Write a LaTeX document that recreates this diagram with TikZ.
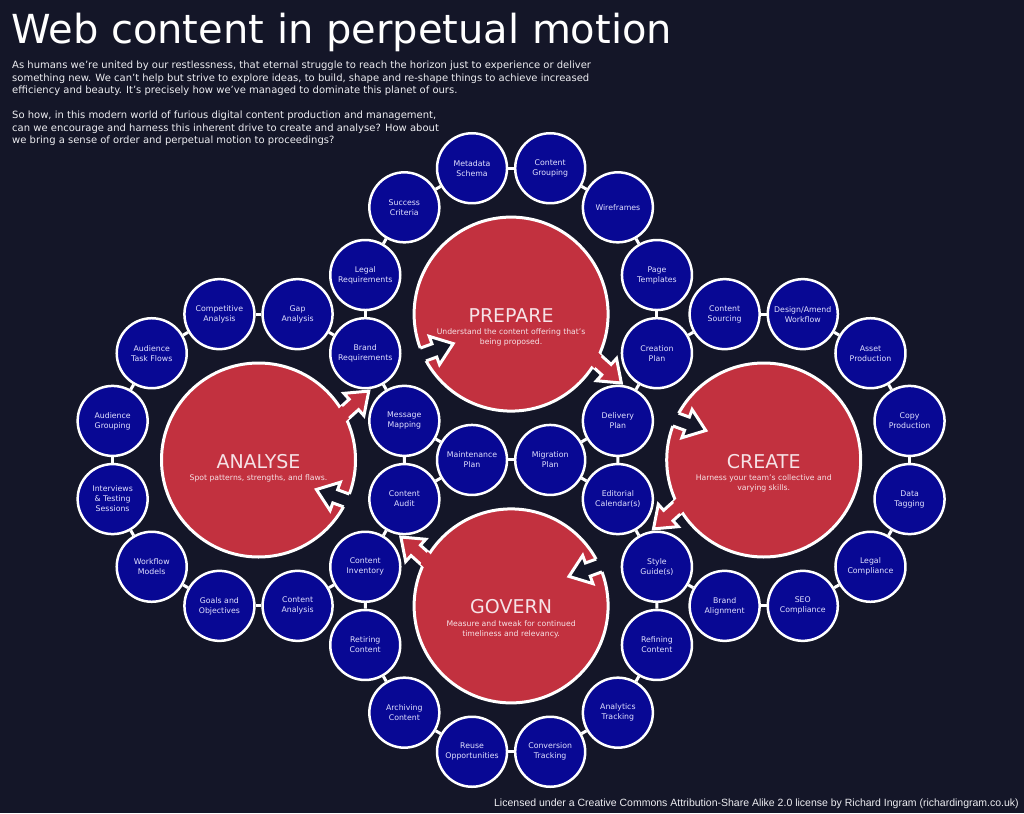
\documentclass[tikz,border=0pt]{standalone}
\usepackage{fontspec}
\setmainfont{DejaVu Sans}
\newfontfamily\footfont{Liberation Sans}
\usetikzlibrary{calc}
\definecolor{bg}{RGB}{20,22,40}
\definecolor{dotblue}{RGB}{8,8,148}
\definecolor{bigred}{RGB}{194,49,63}
\definecolor{labelc}{RGB}{226,226,255}
\definecolor{pinkw}{RGB}{246,226,230}
\definecolor{bodyc}{RGB}{238,238,242}
\newcommand\blockarr[1]{(0,0) -- (-20,15) -- (-20,7) -- (-20-#1,7) -- (-20-#1,-7) -- (-20,-7) -- (-20,-15) -- cycle}
\begin{document}
\begin{tikzpicture}[x=1pt,y=1pt,
  small/.style={circle, minimum size=70pt, inner sep=0pt, fill=dotblue, draw=white, line width=2.5pt, text=labelc, font=\fontsize{7.8}{10}\selectfont, align=center},
  big/.style={circle, minimum size=194pt, inner sep=0pt, fill=bigred, draw=white, line width=3pt},
  link/.style={draw=white, line width=3pt},
  bigtitle/.style={text=pinkw, font=\fontsize{19}{22}\selectfont, inner sep=0pt, anchor=base},
  bigsub/.style={text=pinkw, font=\fontsize{7.7}{10}\selectfont, align=center, inner sep=0pt, anchor=north},
  redarr/.style={fill=bigred, draw=white, line width=3pt, line join=miter},
  darkedge/.style={draw=white, line width=3pt, line join=miter},
  bodytext/.style={text=bodyc, font=\fontsize{10}{12.4}\selectfont, align=left, inner sep=0pt, anchor=north west}
]
\useasboundingbox (0,0) rectangle (1024,-813);
\fill[bg] (0,0) rectangle (1024,-813);

\coordinate (A) at (258.5,-460);
\coordinate (C) at (763.7,-460);
\coordinate (P) at (511.1,-314.1);
\coordinate (G) at (511.1,-605.9);

% arrow tips
\coordinate (tAP) at ($(A)+(32:130)$);
\coordinate (tPC) at ($(P)+(-32:130)$);
\coordinate (tCG) at ($(C)+(212:130)$);
\coordinate (tGA) at ($(G)+(148:130)$);
\coordinate (dAP) at ($(P)+(207:65)$);
\coordinate (dPC) at ($(C)+(153:65)$);
\coordinate (dCG) at ($(G)+(27:65)$);
\coordinate (dGA) at ($(A)+(333:65)$);

% outgoing red arrows (outline layer)
\foreach \t/\r in {tAP/42, tPC/-42, tCG/222, tGA/138}
  \path[redarr, shift={(\t)}, rotate=\r] \blockarr{34};

% big circles
\node[big] (An) at (A) {};
\node[big] (Pn) at (P) {};
\node[big] (Cn) at (C) {};
\node[big] (Gn) at (G) {};

% join red arrows to circles
\foreach \c/\t/\r in {A/tAP/42, P/tPC/-42, C/tCG/222, G/tGA/138}{
  \begin{scope}
    \clip (\c) circle (99.5);
    \fill[bigred, shift={(\t)}, rotate=\r] \blockarr{34};
  \end{scope}
}

% incoming dark arrows
\foreach \c/\t/\r in {P/dAP/20, C/dPC/-20, G/dCG/200, A/dGA/160}{
  \fill[bg, shift={(\t)}, rotate=\r] \blockarr{26};
  \begin{scope}
    \clip (\c) circle (97);
    \path[darkedge, shift={(\t)}, rotate=\r] \blockarr{26};
  \end{scope}
}

% big circle texts
\node[bigtitle] (At) at ($(A)+(0,-8)$) {ANALYSE};
\node[bigsub] (As) at ($(A)+(0,-14.5)$) {Spot patterns, strengths, and flaws.};
\node[bigtitle] (Pt) at ($(P)+(0,-8)$) {PREPARE};
\node[bigsub] (Ps) at ($(P)+(0,-14.5)$) {Understand the content offering that's\\being proposed.};
\node[bigtitle] (Ct) at ($(C)+(0,-8)$) {CREATE};
\node[bigsub] (Cs) at ($(C)+(0,-14.5)$) {Harness your team's collective and\\varying skills.};
\node[bigtitle] (Gt) at ($(G)+(0,-8)$) {GOVERN};
\node[bigsub] (Gs) at ($(G)+(0,-14.5)$) {Measure and tweak for continued\\timeliness and relevancy.};

% ring around PREPARE
\node[small] (meta)   at ($(P)+(105:151)$) {Metadata\\Schema};
\node[small] (cgroup) at ($(P)+(75:151)$) {Content\\Grouping};
\node[small] (wire)   at ($(P)+(45:151)$) {Wireframes};
\node[small] (ptemp)  at ($(P)+(15:151)$) {Page\\Templates};
\node[small] (cplan)  at ($(P)+(-15:151)$) {Creation\\Plan};
\node[small] (dplan)  at ($(P)+(-45:151)$) {Delivery\\Plan};
\node[small] (migr)   at ($(P)+(-75:151)$) {Migration\\Plan};
\node[small] (maint)  at ($(P)+(-105:151)$) {Maintenance\\Plan};
\node[small] (mmap)   at ($(P)+(-135:151)$) {Message\\Mapping};
\node[small] (breq)   at ($(P)+(-165:151)$) {Brand\\Requirements};
\node[small] (lreq)   at ($(P)+(165:151)$) {Legal\\Requirements};
\node[small] (succ)   at ($(P)+(135:151)$) {Success\\Criteria};
% ring around ANALYSE
\node[small] (gap)    at ($(A)+(75:151)$) {Gap\\Analysis};
\node[small] (comp)   at ($(A)+(105:151)$) {Competitive\\Analysis};
\node[small] (atf)    at ($(A)+(135:151)$) {Audience\\Task Flows};
\node[small] (agr)    at ($(A)+(165:151)$) {Audience\\Grouping};
\node[small] (intv)   at ($(A)+(195:151)$) {Interviews\\\& Testing\\Sessions};
\node[small] (wfm)    at ($(A)+(225:151)$) {Workflow\\Models};
\node[small] (goals)  at ($(A)+(255:151)$) {Goals and\\Objectives};
\node[small] (canal)  at ($(A)+(285:151)$) {Content\\Analysis};
\node[small] (cinv)   at ($(A)+(315:151)$) {Content\\Inventory};
\node[small] (caud)   at ($(A)+(345:151)$) {Content\\Audit};
% ring around CREATE
\node[small] (csrc)   at ($(C)+(105:151)$) {Content\\Sourcing};
\node[small] (dawf)   at ($(C)+(75:151)$) {Design/Amend\\Workflow};
\node[small] (asset)  at ($(C)+(45:151)$) {Asset\\Production};
\node[small] (copy)   at ($(C)+(15:151)$) {Copy\\Production};
\node[small] (dtag)   at ($(C)+(-15:151)$) {Data\\Tagging};
\node[small] (lcomp)  at ($(C)+(-45:151)$) {Legal\\Compliance};
\node[small] (seo)    at ($(C)+(-75:151)$) {SEO\\Compliance};
\node[small] (balign) at ($(C)+(-105:151)$) {Brand\\Alignment};
\node[small] (style)  at ($(C)+(-135:151)$) {Style\\Guide(s)};
\node[small] (edcal)  at ($(C)+(-165:151)$) {Editorial\\Calendar(s)};
% ring around GOVERN
\node[small] (refin)  at ($(G)+(-15:151)$) {Refining\\Content};
\node[small] (anat)   at ($(G)+(-45:151)$) {Analytics\\Tracking};
\node[small] (conv)   at ($(G)+(-75:151)$) {Conversion\\Tracking};
\node[small] (reuse)  at ($(G)+(-105:151)$) {Reuse\\Opportunities};
\node[small] (arch)   at ($(G)+(-135:151)$) {Archiving\\Content};
\node[small] (retir)  at ($(G)+(-165:151)$) {Retiring\\Content};

% links
\foreach \u/\v in {meta/cgroup, cgroup/wire, wire/ptemp, ptemp/cplan, cplan/dplan, dplan/migr, migr/maint, maint/mmap, mmap/breq, breq/lreq, lreq/succ, succ/meta,
  breq/gap, gap/comp, comp/atf, atf/agr, agr/intv, intv/wfm, wfm/goals, goals/canal, canal/cinv, cinv/caud, caud/mmap,
  cplan/csrc, csrc/dawf, dawf/asset, asset/copy, copy/dtag, dtag/lcomp, lcomp/seo, seo/balign, balign/style, style/edcal, edcal/dplan,
  migr/edcal, style/refin, refin/anat, anat/conv, conv/reuse, reuse/arch, arch/retir, retir/cinv, caud/maint}
  \draw[link] (\u) -- (\v);

% title and intro
\node[text=white, font=\fontsize{40}{44}\selectfont, inner sep=0pt, anchor=base west] (title) at (11,-44) {Web content in perpetual motion};
\node[bodytext] (para1) at (12,-61) {As humans we're united by our restlessness, that eternal struggle to reach the horizon just to experience or deliver\\something new. We can't help but strive to explore ideas, to build, shape and re-shape things to achieve increased\\efficiency and beauty. It's precisely how we've managed to dominate this planet of ours.};
\node[bodytext] (para2) at (12,-111) {So how, in this modern world of furious digital content production and management,\\can we encourage and harness this inherent drive to create and analyse? How about\\we bring a sense of order and perpetual motion to proceedings?};
\node[text=bodyc, font=\footfont\fontsize{10.5}{12}\selectfont, inner sep=0pt, anchor=base east] (lic) at (1019,-806) {Licensed under a Creative Commons Attribution-Share Alike 2.0 license by Richard Ingram (richardingram.co.uk)};
\end{tikzpicture}
\end{document}
